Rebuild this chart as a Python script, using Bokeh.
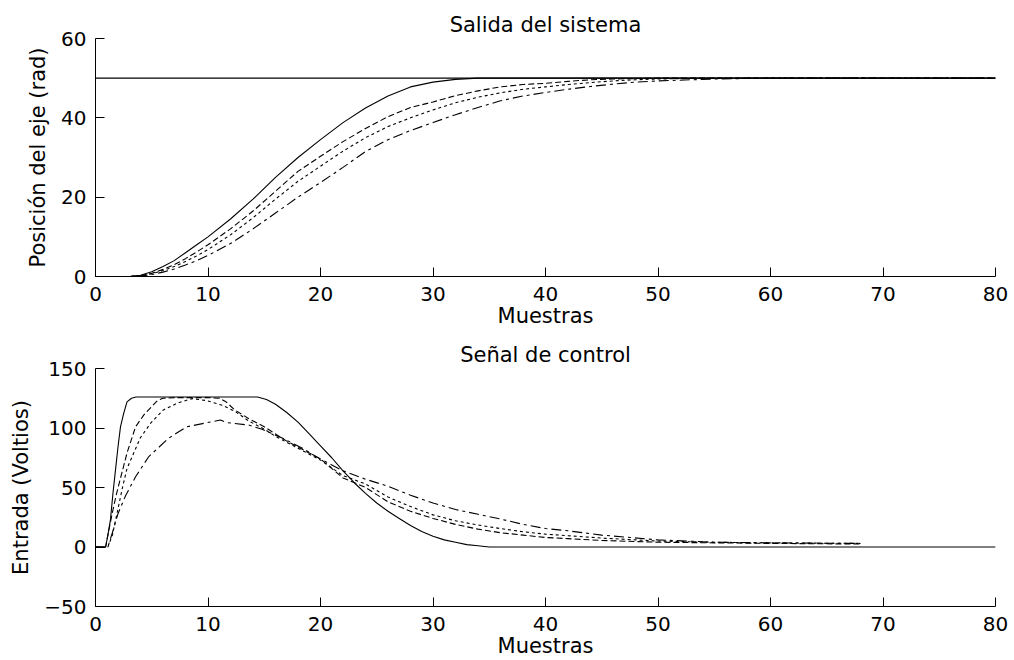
from bokeh.plotting import figure
from bokeh.layouts import column
from bokeh.models import Range1d, FixedTicker
from bokeh.embed import file_html
from bokeh.resources import INLINE

# ---------------- data: top panel (Salida del sistema) ----------------
ref_x = [0, 80]
ref_y = [50, 50]

top_x = [0, 1, 2, 3, 4, 5, 6, 7, 8, 9, 10, 12, 14, 16, 18, 20, 22, 24, 26, 28,
         30, 32, 34, 36, 38, 40, 42, 44, 46, 48, 50, 55, 60, 65, 70, 75, 80]
out_solid = [0, 0, 0, 0, 0.3, 1.2, 2.5, 4, 6, 8, 10, 14.5, 19.5, 25, 30, 34.5, 38.8, 42.5, 45.5, 47.8,
             49, 49.7, 50, 50, 50, 50, 50, 50, 50, 50, 50, 50, 50, 50, 50, 50, 50]
out_dash1 = [0, 0, 0, 0, 0.2, 0.8, 1.8, 3, 4.5, 6.2, 8, 12, 16.5, 21.5, 26.5, 30.3, 34, 37.3, 40.3, 42.6,
             44, 45.6, 46.8, 47.8, 48.4, 48.7, 49.2, 49.6, 49.8, 49.9, 50, 50, 50, 50, 50, 50, 50]
out_dash2 = [0, 0, 0, 0, 0.2, 0.7, 1.5, 2.5, 3.8, 5.2, 6.8, 10.5, 14.8, 19.5, 24, 27.8, 31.6, 35, 37.8, 40,
             42, 43.8, 45.2, 46.3, 47.2, 47.8, 48.4, 48.9, 49.3, 49.6, 49.8, 50, 50, 50, 50, 50, 50]
out_dash3 = [0, 0, 0, 0, 0.1, 0.5, 1.1, 1.9, 2.9, 4, 5.3, 8.3, 12, 16, 20, 23.7, 27.5, 31.5, 34.5, 36.8,
             38.8, 40.8, 42.6, 44.3, 45.5, 46.4, 47.2, 47.9, 48.5, 49, 49.3, 49.8, 50, 50, 50, 50, 50]

# ---------------- data: bottom panel (Señal de control) ----------------
u_solid_x = [0, 0.9, 1.1, 1.33, 1.55, 1.78, 2, 2.22, 2.5, 2.8, 3.2, 3.6, 14.4, 15.2, 16, 17, 18, 19, 20,
             21, 22, 23, 24, 25, 26, 27, 28, 29, 30, 31, 32, 33, 34, 35, 80]
u_solid_y = [0, 0, 10, 23, 45, 65, 84, 101, 112, 122, 125, 126, 126, 124, 120, 113, 105, 95, 85,
             75, 64, 54, 45, 37, 30, 24, 18, 13, 9, 6, 4, 2, 1, 0, 0]

u_dash1_x = [0, 0.9, 1.1, 1.5, 1.85, 2.2, 2.8, 3.56, 4.3, 5, 5.5, 6, 7, 8, 9, 10, 11, 11.6, 12.4,
             13.6, 15, 16, 17, 18, 19, 20, 22, 24, 26, 28, 30, 32, 34, 36, 38, 40, 42, 45, 50, 55, 60, 68]
u_dash1_y = [0, 0, 10, 29, 44, 57, 79, 101, 111, 118, 123, 125, 125.5, 125.5, 125.5, 125.5, 125, 122, 115,
             108, 101, 95, 89, 84, 79, 74, 58, 50, 38, 30, 24, 19, 15, 12, 10, 8, 7, 5.5, 4, 3.5, 3, 2.5]

u_dash2_x = [0, 1.1, 1.5, 1.93, 2.4, 2.8, 3.4, 4, 4.9, 6, 7.3, 8.6, 9.9, 11.3, 12.4, 13.6, 15, 16, 17, 18,
             19, 20, 22, 24, 26, 28, 30, 32, 34, 36, 38, 40, 42, 45, 50, 55, 60, 68]
u_dash2_y = [0, 0, 10, 29, 50, 66, 79, 92, 104, 115, 121, 124.7, 123, 119, 114, 106, 99, 93, 88, 83,
             78, 73, 60, 53, 42, 34, 27, 22, 18.5, 15.5, 12.8, 10.8, 9.5, 7.5, 5, 4, 3.5, 3]

u_dash3_x = [0, 1.1, 1.5, 2, 2.67, 3.56, 4.74, 6.5, 8.1, 10.2, 11.1, 11.7, 13.6, 14.8, 16.6, 18.4, 19.6, 21,
             22, 24, 26, 28, 30, 32, 34, 36, 38, 40, 42, 45, 50, 55, 60, 68]
u_dash3_y = [0, 0, 12, 28, 43, 59, 76, 91.4, 101, 105, 106.7, 104.5, 102.5, 99, 91.5, 83, 76, 69,
             64, 57, 51, 43.5, 37, 31.5, 27.5, 23.5, 19, 15.5, 13.6, 10, 6, 4, 3.5, 3]

x_ticks = [0, 10, 20, 30, 40, 50, 60, 70, 80]
top_ticks = [0, 20, 40, 60]
bot_ticks = [-50, 0, 50, 100, 150]

FONT = "DejaVu Sans"


def make_fig(title, ylabel, yr, yticks):
    p = figure(width=1014, height=330, output_backend="svg", toolbar_location=None,
               x_range=Range1d(0, 80), y_range=Range1d(*yr),
               min_border_left=95, min_border_right=19, min_border_top=38, min_border_bottom=52)
    p.title.text = title
    p.title.align = "center"
    p.title.text_font = FONT
    p.title.text_font_size = "21px"
    p.title.text_font_style = "normal"
    p.title.text_color = "black"
    p.title.standoff = 4
    p.outline_line_color = None
    p.xgrid.visible = False
    p.ygrid.visible = False
    p.background_fill_color = "white"
    p.border_fill_color = "white"
    for ax in (p.xaxis[0], p.yaxis[0]):
        ax.axis_line_color = "black"
        ax.major_tick_line_color = "black"
        ax.minor_tick_line_color = None
        ax.major_tick_in = 9
        ax.major_tick_out = 0
        ax.major_label_text_font = FONT
        ax.major_label_text_font_size = "20px"
        ax.major_label_text_color = "black"
        ax.axis_label_text_font = FONT
        ax.axis_label_text_font_size = "21px"
        ax.axis_label_text_font_style = "normal"
        ax.axis_label_text_color = "black"
    p.xaxis.ticker = FixedTicker(ticks=x_ticks)
    p.yaxis.ticker = FixedTicker(ticks=yticks)
    p.xaxis.axis_label = "Muestras"
    p.yaxis.axis_label = ylabel
    p.xaxis.major_label_standoff = 10
    p.xaxis.axis_label_standoff = 0
    p.yaxis.major_label_standoff = 9
    p.yaxis.axis_label_standoff = 8
    return p


p1 = make_fig("Salida del sistema", "Posición del eje (rad)", (0, 60), top_ticks)
p1.line(ref_x, ref_y, line_color="black", line_width=1.1)
p1.line(top_x, out_solid, line_color="black", line_width=1.1)
p1.line(top_x, out_dash1, line_color="black", line_width=1.1, line_dash="6 3")
p1.line(top_x, out_dash2, line_color="black", line_width=1.1, line_dash="3 3")
p1.line(top_x, out_dash3, line_color="black", line_width=1.1, line_dash="10 4 3 4")

p2 = make_fig("Señal de control", "Entrada (Voltios)", (-50, 150), bot_ticks)
p2.line(u_solid_x, u_solid_y, line_color="black", line_width=1.1)
p2.line(u_dash1_x, u_dash1_y, line_color="black", line_width=1.1, line_dash="6 3")
p2.line(u_dash2_x, u_dash2_y, line_color="black", line_width=1.1, line_dash="3 3")
p2.line(u_dash3_x, u_dash3_y, line_color="black", line_width=1.1, line_dash="10 4 3 4")

layout = column(p1, p2, spacing=0)
open("out.html", "w").write(file_html(layout, INLINE))
